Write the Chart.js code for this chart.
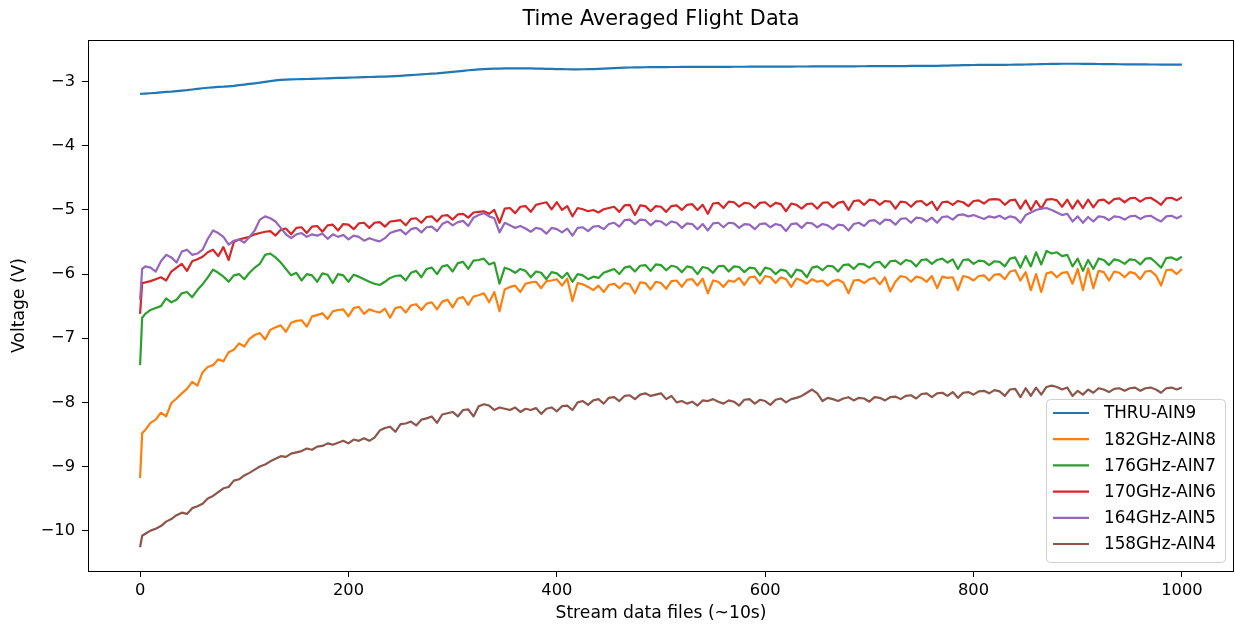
<!DOCTYPE html>
<html>
<head>
<meta charset="utf-8">
<script src="https://cdn.jsdelivr.net/npm/chart.js@4.4.1/dist/chart.umd.min.js"></script>
<style>
  html, body { margin: 0; padding: 0; background: #ffffff; }
  #wrap { width: 1235px; height: 626px; }
</style>
</head>
<body>
<div id="wrap"><canvas id="c" width="1235" height="626"></canvas></div>
<script>
// ---------------- data ----------------
const chartTitle = "Time Averaged Flight Data";
const xAxisLabel = "Stream data files (~10s)";
const yAxisLabel = "Voltage (V)";
const seriesNames = ["THRU-AIN9", "182GHz-AIN8", "176GHz-AIN7", "170GHz-AIN6", "164GHz-AIN5", "158GHz-AIN4"];
const seriesColors = ["#1f77b4", "#ff7f0e", "#2ca02c", "#d62728", "#9467bd", "#8c564b"];
const xTicks = [0, 200, 400, 600, 800, 1000];
const yTicks = [-10, -9, -8, -7, -6, -5, -4, -3];

const xFiles = [0,2,5,10,15,20,25,30,35,40,45,50,55,60,65,70,75,80,85,90,95,
100,105,110,115,120,125,130,135,140,145,150,155,160,165,170,175,180,185,190,195,
200,205,210,215,220,225,230,235,240,245,250,255,260,265,270,275,280,285,290,295,
300,305,310,315,320,325,330,335,340,345,350,355,360,365,370,375,380,385,390,395,
400,405,410,415,420,425,430,435,440,445,450,455,460,465,470,475,480,485,490,495,
500,505,510,515,520,525,530,535,540,545,550,555,560,565,570,575,580,585,590,595,
600,605,610,615,620,625,630,635,640,645,650,655,660,665,670,675,680,685,690,695,
700,705,710,715,720,725,730,735,740,745,750,755,760,765,770,775,780,785,790,795,
800,805,810,815,820,825,830,835,840,845,850,855,860,865,870,875,880,885,890,895,
900,905,910,915,920,925,930,935,940,945,950,955,960,965,970,975,980,985,990,995,
1000];

const thruAin9 = [-3.190,-3.188,-3.185,-3.180,-3.175,-3.168,-3.160,-3.155,-3.148,-3.140,-3.132,-3.122,-3.112,-3.102,-3.095,-3.088,-3.082,-3.078,-3.072,-3.065,-3.055,
-3.045,-3.035,-3.025,-3.015,-3.002,-2.990,-2.980,-2.972,-2.968,-2.965,-2.962,-2.960,-2.958,-2.955,-2.952,-2.950,-2.947,-2.945,-2.942,-2.940,
-2.937,-2.935,-2.932,-2.930,-2.927,-2.925,-2.922,-2.920,-2.917,-2.913,-2.908,-2.903,-2.898,-2.892,-2.886,-2.880,-2.875,-2.870,-2.862,-2.855,
-2.847,-2.838,-2.830,-2.822,-2.815,-2.808,-2.803,-2.800,-2.797,-2.795,-2.793,-2.792,-2.791,-2.791,-2.792,-2.793,-2.795,-2.797,-2.799,-2.801,
-2.803,-2.805,-2.806,-2.807,-2.807,-2.806,-2.805,-2.803,-2.800,-2.796,-2.792,-2.788,-2.784,-2.781,-2.779,-2.777,-2.776,-2.775,-2.774,-2.773,
-2.772,-2.772,-2.771,-2.771,-2.770,-2.770,-2.770,-2.769,-2.769,-2.769,-2.768,-2.768,-2.768,-2.768,-2.767,-2.767,-2.767,-2.766,-2.766,-2.766,
-2.765,-2.765,-2.765,-2.764,-2.764,-2.764,-2.763,-2.763,-2.763,-2.762,-2.762,-2.762,-2.761,-2.761,-2.761,-2.760,-2.760,-2.760,-2.759,-2.759,
-2.758,-2.758,-2.758,-2.757,-2.757,-2.756,-2.756,-2.756,-2.755,-2.755,-2.754,-2.754,-2.753,-2.752,-2.751,-2.749,-2.747,-2.745,-2.743,-2.741,
-2.740,-2.739,-2.738,-2.737,-2.737,-2.737,-2.737,-2.736,-2.735,-2.734,-2.732,-2.730,-2.728,-2.726,-2.724,-2.722,-2.721,-2.720,-2.720,-2.720,
-2.720,-2.721,-2.722,-2.723,-2.724,-2.725,-2.726,-2.727,-2.728,-2.729,-2.730,-2.730,-2.731,-2.731,-2.732,-2.732,-2.733,-2.733,-2.734,-2.734,
-2.735];

const ghz182Ain8 = [-9.18,-8.48,-8.43,-8.32,-8.27,-8.16,-8.22,-8.01,-7.94,-7.86,-7.79,-7.68,-7.74,-7.53,-7.45,-7.42,-7.33,-7.36,-7.22,-7.18,-7.08,
-7.13,-7.01,-6.95,-6.92,-7.02,-6.87,-6.83,-6.80,-6.90,-6.76,-6.73,-6.72,-6.82,-6.66,-6.64,-6.61,-6.70,-6.58,-6.56,-6.55,
-6.66,-6.53,-6.51,-6.62,-6.55,-6.58,-6.60,-6.54,-6.68,-6.53,-6.51,-6.60,-6.49,-6.47,-6.56,-6.46,-6.44,-6.55,-6.43,-6.40,
-6.52,-6.38,-6.36,-6.48,-6.35,-6.33,-6.30,-6.44,-6.28,-6.58,-6.24,-6.20,-6.18,-6.28,-6.15,-6.13,-6.12,-6.22,-6.11,-6.10,
-6.08,-6.18,-6.07,-6.42,-6.14,-6.16,-6.20,-6.25,-6.18,-6.28,-6.17,-6.15,-6.22,-6.14,-6.16,-6.30,-6.13,-6.14,-6.24,-6.12,
-6.14,-6.23,-6.11,-6.10,-6.20,-6.09,-6.08,-6.18,-6.07,-6.30,-6.10,-6.12,-6.20,-6.10,-6.12,-6.06,-6.17,-6.05,-6.04,-6.15,
-6.03,-6.05,-6.14,-6.05,-6.08,-6.20,-6.07,-6.10,-6.15,-6.08,-6.12,-6.10,-6.18,-6.11,-6.09,-6.13,-6.30,-6.10,-6.09,-6.14,
-6.08,-6.06,-6.16,-6.05,-6.27,-6.12,-6.03,-6.05,-6.12,-6.04,-6.06,-6.12,-6.03,-6.22,-6.04,-6.06,-6.05,-6.25,-6.03,-6.05,
-6.10,-6.03,-6.02,-6.10,-6.01,-6.00,-6.08,-5.96,-5.94,-6.10,-5.97,-6.25,-6.00,-6.28,-5.99,-5.97,-6.05,-5.98,-5.97,-6.15,
-5.92,-6.25,-5.91,-6.22,-5.95,-5.97,-6.10,-5.96,-5.98,-6.05,-5.97,-5.99,-6.08,-5.96,-5.95,-6.02,-6.18,-5.94,-5.93,-6.00,
-5.92];

const ghz176Ain7 = [-7.42,-6.68,-6.62,-6.56,-6.53,-6.50,-6.38,-6.44,-6.40,-6.30,-6.28,-6.36,-6.25,-6.16,-6.05,-5.93,-5.98,-6.04,-6.12,-6.02,-6.00,
-6.08,-5.98,-5.90,-5.84,-5.70,-5.68,-5.74,-5.82,-5.92,-6.02,-5.98,-6.10,-6.00,-6.02,-6.12,-5.99,-6.01,-6.14,-6.00,-6.02,
-6.12,-6.01,-6.04,-6.08,-6.12,-6.15,-6.17,-6.12,-6.06,-6.03,-6.02,-6.10,-5.98,-5.95,-6.05,-5.92,-5.90,-6.00,-5.88,-5.86,
-5.96,-5.83,-5.81,-5.92,-5.79,-5.78,-5.76,-5.85,-5.82,-6.15,-5.90,-5.93,-5.98,-5.92,-5.95,-6.05,-5.96,-5.98,-6.08,-5.97,
-5.99,-6.06,-5.98,-6.12,-6.00,-6.02,-6.08,-6.04,-6.06,-5.98,-5.95,-5.92,-6.00,-5.90,-5.88,-5.96,-5.87,-5.86,-5.95,-5.85,
-5.86,-5.94,-5.87,-5.89,-5.97,-5.88,-5.90,-6.00,-5.89,-5.91,-5.98,-5.88,-5.87,-5.96,-5.88,-5.89,-5.97,-5.90,-5.91,-6.02,
-5.90,-5.92,-6.00,-5.93,-5.95,-6.05,-5.93,-5.95,-6.05,-5.90,-5.88,-5.94,-5.87,-5.88,-5.96,-5.86,-5.85,-5.92,-5.84,-5.85,
-5.90,-5.82,-5.81,-5.90,-5.80,-5.79,-5.85,-5.78,-5.80,-5.88,-5.78,-5.77,-5.84,-5.78,-5.76,-5.82,-5.77,-5.92,-5.78,-5.77,
-5.84,-5.79,-5.80,-5.86,-5.80,-5.81,-5.88,-5.76,-5.74,-5.90,-5.72,-5.88,-5.66,-5.85,-5.64,-5.68,-5.66,-5.72,-5.70,-5.88,
-5.76,-5.95,-5.78,-5.92,-5.76,-5.78,-5.86,-5.77,-5.79,-5.84,-5.77,-5.78,-5.85,-5.76,-5.75,-5.82,-5.90,-5.75,-5.74,-5.78,
-5.73];

const ghz170Ain6 = [-6.62,-6.14,-6.13,-6.11,-6.08,-6.05,-6.10,-5.96,-5.90,-5.84,-5.95,-5.80,-5.77,-5.73,-5.66,-5.62,-5.72,-5.58,-5.78,-5.50,-5.46,
-5.44,-5.42,-5.38,-5.36,-5.34,-5.33,-5.40,-5.31,-5.29,-5.38,-5.28,-5.27,-5.36,-5.26,-5.25,-5.34,-5.24,-5.23,-5.32,-5.22,
-5.23,-5.30,-5.21,-5.20,-5.28,-5.20,-5.19,-5.26,-5.18,-5.17,-5.16,-5.24,-5.14,-5.13,-5.20,-5.11,-5.10,-5.18,-5.09,-5.08,
-5.15,-5.07,-5.06,-5.12,-5.04,-5.03,-5.02,-5.06,-5.00,-5.20,-4.98,-4.97,-5.05,-4.95,-4.94,-5.03,-4.92,-4.90,-4.88,-4.99,
-4.88,-5.00,-4.94,-5.10,-4.97,-4.99,-5.02,-5.00,-5.04,-4.99,-4.97,-4.95,-5.03,-4.93,-4.92,-5.08,-4.93,-4.94,-5.02,-4.94,
-4.95,-5.03,-4.94,-4.93,-5.00,-4.92,-4.91,-5.00,-4.92,-5.06,-4.90,-4.89,-4.97,-4.87,-4.88,-4.95,-4.89,-4.90,-4.97,-4.89,
-4.88,-4.95,-4.89,-4.91,-5.02,-4.90,-4.92,-4.98,-4.91,-4.90,-4.98,-4.89,-4.88,-4.96,-4.89,-4.87,-5.00,-4.86,-4.85,-4.92,
-4.84,-4.85,-4.92,-4.86,-4.87,-4.98,-4.87,-4.88,-4.95,-4.87,-4.86,-4.93,-4.87,-5.00,-4.88,-4.87,-4.92,-4.86,-4.88,-4.94,
-4.86,-4.85,-4.90,-4.84,-4.83,-4.84,-4.92,-4.85,-4.84,-4.98,-4.85,-5.00,-4.86,-4.98,-4.84,-4.83,-4.85,-4.95,-4.84,-4.98,
-4.85,-4.97,-4.84,-4.96,-4.85,-4.84,-4.90,-4.83,-4.82,-4.88,-4.82,-4.81,-4.87,-4.82,-4.81,-4.86,-4.92,-4.82,-4.81,-4.85,
-4.80];

const ghz164Ain5 = [-6.40,-5.92,-5.88,-5.90,-5.96,-5.80,-5.70,-5.74,-5.82,-5.65,-5.62,-5.70,-5.68,-5.62,-5.45,-5.32,-5.36,-5.42,-5.54,-5.48,-5.46,
-5.51,-5.42,-5.32,-5.15,-5.10,-5.13,-5.18,-5.28,-5.38,-5.44,-5.38,-5.36,-5.42,-5.38,-5.40,-5.37,-5.45,-5.38,-5.42,-5.39,
-5.46,-5.40,-5.42,-5.48,-5.44,-5.47,-5.49,-5.44,-5.36,-5.33,-5.31,-5.38,-5.30,-5.28,-5.35,-5.27,-5.26,-5.33,-5.22,-5.18,
-5.24,-5.19,-5.17,-5.25,-5.12,-5.08,-5.05,-5.10,-5.13,-5.35,-5.20,-5.24,-5.28,-5.25,-5.29,-5.34,-5.28,-5.30,-5.37,-5.28,
-5.30,-5.35,-5.29,-5.40,-5.28,-5.27,-5.33,-5.26,-5.25,-5.30,-5.22,-5.20,-5.26,-5.16,-5.15,-5.22,-5.15,-5.16,-5.24,-5.17,
-5.18,-5.24,-5.18,-5.20,-5.28,-5.21,-5.22,-5.30,-5.22,-5.32,-5.21,-5.20,-5.27,-5.20,-5.21,-5.28,-5.22,-5.23,-5.30,-5.22,
-5.21,-5.27,-5.22,-5.24,-5.33,-5.22,-5.21,-5.28,-5.20,-5.21,-5.27,-5.22,-5.24,-5.30,-5.23,-5.24,-5.32,-5.22,-5.20,-5.25,
-5.17,-5.16,-5.22,-5.15,-5.16,-5.23,-5.14,-5.13,-5.20,-5.12,-5.13,-5.18,-5.12,-5.20,-5.11,-5.10,-5.15,-5.08,-5.07,-5.10,
-5.08,-5.11,-5.14,-5.10,-5.12,-5.09,-5.14,-5.10,-5.12,-5.20,-5.08,-5.04,-5.00,-4.98,-4.97,-5.00,-5.04,-5.08,-5.06,-5.18,
-5.10,-5.20,-5.11,-5.18,-5.10,-5.11,-5.16,-5.10,-5.11,-5.15,-5.10,-5.09,-5.14,-5.10,-5.09,-5.14,-5.18,-5.10,-5.09,-5.13,
-5.09];

const ghz158Ain4 = [-10.26,-10.08,-10.05,-10.00,-9.97,-9.93,-9.86,-9.82,-9.76,-9.72,-9.74,-9.65,-9.62,-9.58,-9.50,-9.46,-9.40,-9.34,-9.32,-9.22,-9.20,
-9.14,-9.10,-9.05,-9.00,-8.97,-8.92,-8.88,-8.84,-8.85,-8.80,-8.78,-8.76,-8.72,-8.74,-8.69,-8.68,-8.64,-8.66,-8.63,-8.60,
-8.64,-8.58,-8.60,-8.56,-8.60,-8.55,-8.44,-8.40,-8.38,-8.46,-8.34,-8.33,-8.30,-8.36,-8.27,-8.25,-8.22,-8.32,-8.19,-8.17,
-8.15,-8.22,-8.12,-8.11,-8.22,-8.06,-8.03,-8.05,-8.12,-8.08,-8.10,-8.12,-8.08,-8.15,-8.10,-8.12,-8.09,-8.18,-8.10,-8.08,
-8.14,-8.06,-8.05,-8.12,-8.00,-7.98,-8.04,-7.97,-7.95,-8.02,-7.93,-7.92,-7.98,-7.90,-7.89,-7.95,-7.88,-7.86,-7.90,-7.88,
-7.86,-7.95,-7.90,-8.00,-7.98,-8.02,-7.99,-8.05,-7.97,-7.98,-7.95,-7.99,-8.02,-7.97,-7.99,-8.05,-7.96,-7.95,-8.02,-7.96,
-7.98,-8.04,-7.96,-7.94,-8.00,-7.95,-7.93,-7.90,-7.85,-7.80,-7.86,-7.98,-7.93,-7.95,-7.98,-7.94,-7.92,-7.97,-7.93,-7.94,
-7.99,-7.92,-7.93,-7.97,-7.92,-7.91,-7.95,-7.90,-7.89,-7.94,-7.87,-7.86,-7.92,-7.86,-7.85,-7.90,-7.84,-7.93,-7.85,-7.84,
-7.88,-7.83,-7.82,-7.86,-7.81,-7.83,-7.90,-7.80,-7.79,-7.92,-7.78,-7.90,-7.77,-7.88,-7.76,-7.74,-7.76,-7.80,-7.77,-7.90,
-7.82,-7.88,-7.80,-7.85,-7.78,-7.80,-7.84,-7.79,-7.78,-7.82,-7.78,-7.77,-7.82,-7.78,-7.77,-7.80,-7.85,-7.78,-7.77,-7.80,
-7.77];

const seriesValues = [thruAin9, ghz182Ain8, ghz176Ain7, ghz170Ain6, ghz164Ain5, ghz158Ain4];

// ---------------- chart ----------------
const FONT = "'DejaVu Sans', 'Liberation Sans', sans-serif";
const TEXT = "#000000";

const datasets = seriesNames.map((name, k) => ({
  label: name,
  data: xFiles.map((x, i) => ({ x: x, y: seriesValues[k][i] })),
  borderColor: seriesColors[k],
  backgroundColor: seriesColors[k],
  borderWidth: 2.2,
  pointRadius: 0,
  pointHoverRadius: 0,
  tension: 0,
  fill: false,
  borderJoinStyle: 'round',
  order: seriesNames.length - 1 - k
}));

const framePlugin = {
  id: 'frameTitleLegend',
  afterDatasetsDraw(chart) {
    const ctx = chart.ctx;
    const a = chart.chartArea;
    ctx.save();
    // frame
    ctx.strokeStyle = '#000000';
    ctx.lineWidth = 1;
    ctx.strokeRect(Math.round(a.left) + 0.5, Math.round(a.top) + 0.5,
                   Math.round(a.right - a.left) - 1, Math.round(a.bottom - a.top));
    // title
    ctx.fillStyle = TEXT;
    ctx.font = "20.8px " + FONT;
    ctx.textAlign = 'center';
    ctx.textBaseline = 'middle';
    ctx.fillText(chartTitle, (a.left + a.right) / 2, 20);
    // legend
    const bx = 1046.5, by = 399.5, bw = 179, bh = 163, r = 4;
    ctx.beginPath();
    ctx.moveTo(bx + r, by);
    ctx.lineTo(bx + bw - r, by);
    ctx.arcTo(bx + bw, by, bx + bw, by + r, r);
    ctx.lineTo(bx + bw, by + bh - r);
    ctx.arcTo(bx + bw, by + bh, bx + bw - r, by + bh, r);
    ctx.lineTo(bx + r, by + bh);
    ctx.arcTo(bx, by + bh, bx, by + bh - r, r);
    ctx.lineTo(bx, by + r);
    ctx.arcTo(bx, by, bx + r, by, r);
    ctx.closePath();
    ctx.fillStyle = 'rgba(255,255,255,0.8)';
    ctx.fill();
    ctx.strokeStyle = '#d0d0d0';
    ctx.lineWidth = 1;
    ctx.stroke();
    ctx.font = "16.8px " + FONT;
    ctx.textAlign = 'left';
    ctx.textBaseline = 'middle';
    chart.data.datasets.forEach((ds, i) => {
      const yy = 413 + i * 26.2;
      ctx.strokeStyle = ds.borderColor;
      ctx.lineWidth = 2.2;
      ctx.beginPath();
      ctx.moveTo(1053, yy);
      ctx.lineTo(1089, yy);
      ctx.stroke();
      ctx.fillStyle = TEXT;
      ctx.fillText(ds.label, 1104, yy + 1);
    });
    ctx.restore();
  }
};

new Chart(document.getElementById('c'), {
  type: 'line',
  data: { datasets: datasets },
  options: {
    responsive: false,
    animation: false,
    devicePixelRatio: 1,
    events: [],
    layout: { padding: { top: 40, right: 1, bottom: 0, left: 0 } },
    plugins: { legend: { display: false }, title: { display: false }, tooltip: { enabled: false } },
    scales: {
      x: {
        type: 'linear',
        min: -50,
        max: 1050,
        afterFit(s) { s.height = 55; },
        afterBuildTicks(s) { s.ticks = xTicks.map(v => ({ value: v })); },
        grid: { drawOnChartArea: false, drawTicks: true, tickLength: 6, color: '#000000', lineWidth: 1 },
        border: { display: false },
        ticks: {
          autoSkip: false, maxRotation: 0, padding: 4,
          color: TEXT, font: { family: FONT, size: 16.3 },
          callback: v => String(v)
        },
        title: { display: true, text: xAxisLabel, color: TEXT, font: { family: FONT, size: 17.2 }, padding: { top: 0, bottom: 2 } }
      },
      y: {
        type: 'linear',
        min: -10.63,
        max: -2.35,
        afterFit(s) { s.width = 88; },
        afterBuildTicks(s) { s.ticks = yTicks.map(v => ({ value: v })); },
        grid: { drawOnChartArea: false, drawTicks: true, tickLength: 6, color: '#000000', lineWidth: 1 },
        border: { display: false },
        ticks: {
          autoSkip: false, padding: 7,
          color: TEXT, font: { family: FONT, size: 16.3 },
          callback: v => (v < 0 ? '\u2212' + String(Math.abs(v)) : String(v))
        },
        title: { display: true, text: yAxisLabel, color: TEXT, font: { family: FONT, size: 17.2 }, padding: { top: 9, bottom: 0 } }
      }
    }
  },
  plugins: [framePlugin]
});
</script>
</body>
</html>
